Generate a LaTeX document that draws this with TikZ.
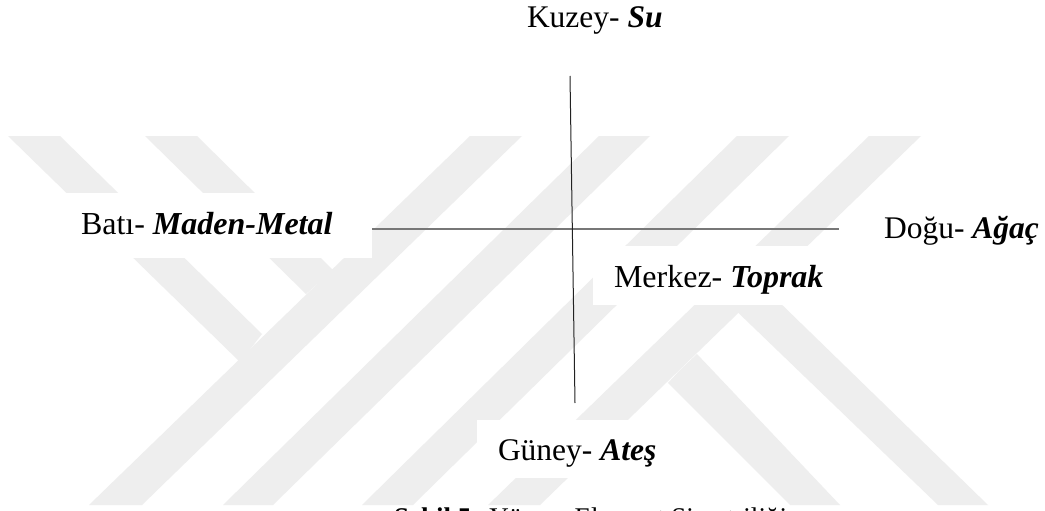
\documentclass[tikz,border=0pt]{standalone}
\usepackage{fontspec}
\setmainfont{Liberation Serif}
\definecolor{wm}{HTML}{EEEEEE}
\definecolor{hline}{HTML}{777777}
\definecolor{vline}{HTML}{222222}
\tikzset{
  band/.style={fill=wm,draw=none},
  mask/.style={fill=white,draw=none},
  lab/.style={anchor=base west,inner sep=0pt,outer sep=0pt,font=\fontsize{31.5}{36}\selectfont},
  labwide/.style={lab,font=\fontsize{32}{36}\selectfont},
  captext/.style={anchor=base west,inner sep=0pt,outer sep=0pt,font=\fontsize{27}{32}\selectfont},
}
\begin{document}
\begin{tikzpicture}[x=1pt,y=-1pt]
\useasboundingbox (0,0) rectangle (1045,511);
\fill[white] (0,0) rectangle (1045,511);
% watermark: diagonal bands
\fill[band] (89,505) -- (142,505) -- (522,136) -- (470,136) -- cycle;
\fill[band] (223,505) -- (273,505) -- (650,136) -- (599,136) -- cycle;
\fill[band] (362,505) -- (413,505) -- (789,136) -- (737,136) -- cycle;
\fill[band] (488,505) -- (540,505) -- (921,136) -- (869,136) -- cycle;
\fill[band] (8,136) -- (60,136) -- (262,334) -- (240,362) -- cycle;
\fill[band] (145,136) -- (197,136) -- (333,270) -- (306,294) -- cycle;
\fill[band] (739,263) -- (988,505) -- (938,505) -- (725,300) -- cycle;
\fill[band] (680,370) -- (697,354) -- (840,505) -- (790,505) -- (668,383) -- cycle;
% white backgrounds behind the labels
\fill[mask] (0,193) rectangle (372,258);
\fill[mask] (593,246) rectangle (840,305);
\fill[mask] (477,420) rectangle (670,478);
% axes
\coordinate (wEnd) at (372,229);
\coordinate (eEnd) at (839,229);
\coordinate (nEnd) at (570,76);
\coordinate (sEnd) at (575,403);
\draw[hline,line width=1.5pt] (wEnd) -- (eEnd);
\draw[vline,line width=1pt] (nEnd) -- (sEnd);
% labels
\node[lab] (kuzey) at (527,28) {Kuzey- \textbf{\textit{Su}}};
\node[labwide] (bati) at (81,234) {Batı- \textbf{\textit{Maden-Metal}}};
\node[lab] (dogu) at (884,238) {Doğu- \textbf{\textit{Ağaç}}};
\node[labwide] (merkez) at (614,287) {Merkez- \textbf{\textit{Toprak}}};
\node[lab] (guney) at (498,460) {Güney- \textbf{\textit{Ateş}}};
\node[captext] (caption) at (394,526) {\textbf{Şekil 5:} Yön ve Element Simetriliği};
\end{tikzpicture}
\end{document}
